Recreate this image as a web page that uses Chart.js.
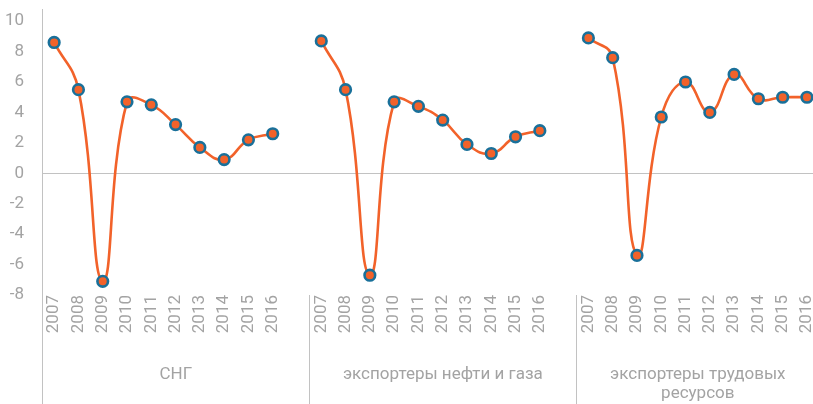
<!DOCTYPE html>
<html>
<head>
<meta charset="utf-8">
<script src="https://cdn.jsdelivr.net/npm/chart.js@4/dist/chart.umd.min.js"></script>
<style>
  html, body { margin: 0; padding: 0; background: #ffffff; overflow: hidden; }
  #wrap { width: 813px; height: 404px; position: relative; overflow: hidden; }
  #c { position: absolute; left: 0; top: 0; }
</style>
</head>
<body>
<div id="wrap"><canvas id="c" width="827" height="404"></canvas></div>
<script>
// ---- data ----
const years = ['2007','2008','2009','2010','2011','2012','2013','2014','2015','2016'];
const groupNames = [['СНГ'], ['экспортеры нефти и газа'], ['экспортеры трудовых', 'ресурсов']];
const cisValues = [8.6, 5.5, -7.1, 4.7, 4.5, 3.2, 1.7, 0.9, 2.2, 2.6];
const oilGasValues = [8.7, 5.5, -6.7, 4.7, 4.4, 3.5, 1.9, 1.3, 2.4, 2.8];
const laborValues = [8.9, 7.6, -5.4, 3.7, 6.0, 4.0, 6.5, 4.9, 5.0, 5.0];
const yTicks = [-8, -6, -4, -2, 0, 2, 4, 6, 8, 10];

// build category table: group, gap, group, gap, group
const labels = [...years, '', ...years, '', ...years];
const values = [...cisValues, null, ...oilGasValues, null, ...laborValues];
const groupStarts = [0, 11, 22];
const groupEnds = [10, 21, 31];

const TEXT = '#a3a3a3';
const AXIS = '#c2c2c2';
const FONT = 'Roboto';

const groupPlugin = {
  id: 'groups',
  afterDraw(chart) {
    const x = chart.scales.x;
    const area = chart.chartArea;
    const ctx = chart.ctx;
    const half = (x.getPixelForValue(1) - x.getPixelForValue(0)) / 2;
    ctx.save();
    ctx.strokeStyle = AXIS;
    ctx.lineWidth = 1;
    groupStarts.forEach((s, gi) => {
      const left = Math.round(x.getPixelForValue(s) - half) + 0.5;
      ctx.beginPath();
      ctx.moveTo(left, area.bottom);
      ctx.lineTo(left, chart.height);
      ctx.stroke();
      const right = x.getPixelForValue(groupEnds[gi]) + half;
      const cx = (left + right) / 2;
      ctx.fillStyle = TEXT;
      ctx.font = '17px ' + FONT;
      ctx.textAlign = 'center';
      ctx.textBaseline = 'alphabetic';
      groupNames[gi].forEach((line, li) => {
        ctx.fillText(line, cx, 379 + li * 19);
      });
    });
    ctx.restore();
  }
};

new Chart(document.getElementById('c'), {
  type: 'line',
  data: {
    labels: labels,
    datasets: [{
      data: values,
      borderColor: '#f2622a',
      borderWidth: 2.6,
      tension: 0.45,
      spanGaps: false,
      pointRadius: 5.3,
      pointBorderWidth: 2.6,
      pointBackgroundColor: '#f2622a',
      pointBorderColor: '#19709a',
      pointHoverRadius: 5.3,
      clip: false
    }]
  },
  options: {
    responsive: false,
    animation: false,
    devicePixelRatio: 1,
    layout: { padding: { top: 9, right: 0, left: 0, bottom: 0 } },
    plugins: { legend: { display: false }, tooltip: { enabled: false } },
    scales: {
      x: {
        type: 'category',
        offset: true,
        grid: { display: false, drawTicks: false },
        border: { display: false },
        ticks: {
          autoSkip: false,
          maxRotation: 90,
          minRotation: 90,
          padding: 0,
          color: TEXT,
          font: { family: FONT, size: 17 }
        },
        afterFit(s) { s.height = 109; s.paddingLeft = 0; s.paddingRight = 0; }
      },
      y: {
        min: -8,
        max: 10.8,
        afterBuildTicks(s) { s.ticks = yTicks.map(v => ({ value: v })); },
        grid: {
          drawTicks: false,
          color: (c) => (c.tick && c.tick.value === 0 ? AXIS : 'rgba(0,0,0,0)'),
          lineWidth: 1
        },
        border: { display: true, color: AXIS, width: 1 },
        ticks: {
          padding: 18,
          color: TEXT,
          font: { family: FONT, size: 17 }
        },
        afterFit(s) { s.width = 42; s.paddingTop = 0; s.paddingBottom = 0; }
      }
    }
  },
  plugins: [groupPlugin]
});
</script>
</body>
</html>
